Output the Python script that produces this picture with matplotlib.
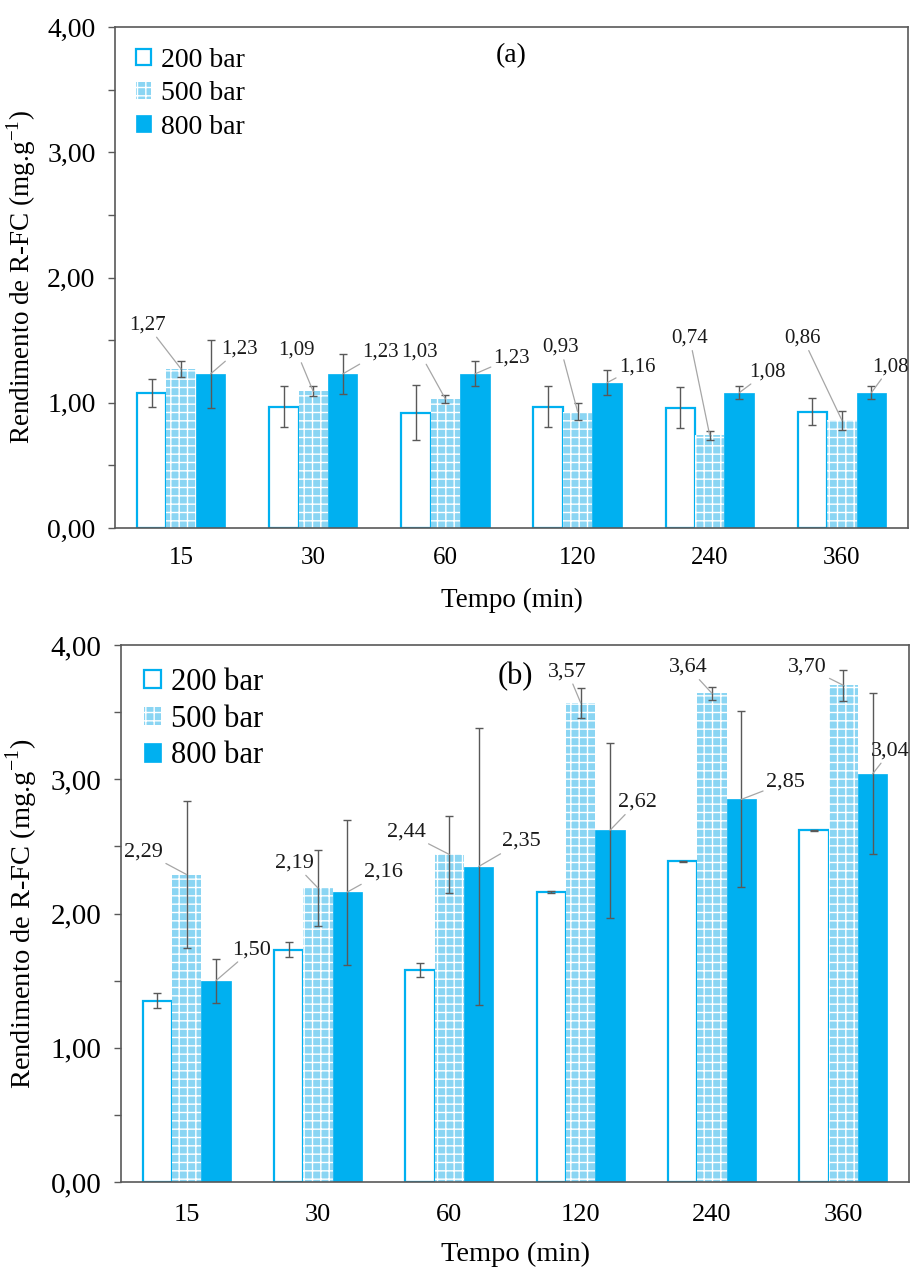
import matplotlib.pyplot as plt
import numpy as np
from matplotlib.ticker import MultipleLocator, FuncFormatter

plt.rcParams['font.family'] = ['Liberation Serif', 'DejaVu Serif']
plt.rcParams['mathtext.fontset'] = 'custom'
plt.rcParams['mathtext.rm'] = 'Liberation Serif'
plt.rcParams['hatch.linewidth'] = 1.0

tempos = ['15', '30', '60', '120', '240', '360']
series = ['200 bar', '500 bar', '800 bar']

# (a)
a_200 = [1.08, 0.97, 0.92, 0.97, 0.96, 0.93]
a_500 = [1.27, 1.09, 1.03, 0.93, 0.74, 0.86]
a_800 = [1.23, 1.23, 1.23, 1.16, 1.08, 1.08]
a_err_200 = [0.11, 0.16, 0.22, 0.16, 0.165, 0.11]
a_err_500 = [0.065, 0.04, 0.035, 0.07, 0.035, 0.075]
a_err_800 = [0.27, 0.16, 0.10, 0.10, 0.05, 0.05]

# (b)
b_200 = [1.35, 1.73, 1.58, 2.16, 2.39, 2.62]
b_500 = [2.29, 2.19, 2.44, 3.57, 3.64, 3.70]
b_800 = [1.50, 2.16, 2.35, 2.62, 2.85, 3.04]
b_err_200 = [0.055, 0.055, 0.055, 0.005, 0.005, 0.005]
b_err_500 = [0.55, 0.28, 0.29, 0.11, 0.05, 0.115]
b_err_800 = [0.165, 0.54, 1.03, 0.65, 0.655, 0.60]

# label offsets in pixels (500 bar, 800 bar)
a_off_500 = [(-34, 44), (-17, 41), (-26, 47), (-17, 64), (-20, 97), (-39, 82)]
a_off_800 = [(29, 25), (38, 22), (37, 16), (30, 16), (28, 21), (19, 26)]
b_off_500 = [(-43, 23), (-24, 25), (-43, 22), (-13, 31), (-24, 26), (-36, 18)]
b_off_800 = [(36, 31), (36, 20), (43, 25), (27, 28), (44, 17), (18, 23)]

azul = '#00B0F0'
tijolo = '#8AD5F3'
cinza = '#595959'


def virgula(v, pos=None):
    return f'{v:.2f}'.replace('.', ',')


def painel(ax, v200, v500, v800, e200, e500, e800, off500, off800, letra,
           fs_yt, fs_xt, fs_lab, fs_leg, fs_val, ylab_x, xpad, xlabpad, lsp):
    x = np.arange(len(tempos))
    w = 0.223
    ax.bar(x - w, v200, w, color='white', edgecolor=azul, linewidth=1.6,
           label=series[0], zorder=2)
    ax.bar(x, v500, w, color=tijolo, edgecolor='white', linewidth=0,
           hatch='++', label=series[1], zorder=2)
    ax.bar(x + w, v800, w, color=azul, edgecolor=azul, linewidth=0.5,
           label=series[2], zorder=2)
    for dx, v, e in [(-w, v200, e200), (0, v500, e500), (w, v800, e800)]:
        ax.errorbar(x + dx, v, yerr=e, fmt='none', ecolor=cinza,
                    elinewidth=1, capsize=3, capthick=1, zorder=3)

    for i in range(len(tempos)):
        for dx, v, off in [(0, v500, off500), (w, v800, off800)]:
            ax.annotate(virgula(v[i]), xy=(x[i] + dx, v[i]), xytext=off[i],
                        textcoords='offset pixels', ha='center', va='center',
                        fontsize=fs_val, color='#1a1a1a', zorder=4,
                        arrowprops=dict(arrowstyle='-', color='#A6A6A6',
                                        lw=0.9, shrinkA=0, shrinkB=0))

    ax.set_xlim(-0.5, len(tempos) - 0.5)
    ax.set_ylim(0, 4)
    ax.set_xticks(x)
    ax.set_xticklabels(tempos, fontsize=fs_xt)
    ax.tick_params(axis='x', length=0, pad=xpad)
    ax.yaxis.set_major_locator(MultipleLocator(1))
    ax.yaxis.set_minor_locator(MultipleLocator(0.5))
    ax.yaxis.set_major_formatter(FuncFormatter(virgula))
    ax.tick_params(axis='y', which='both', direction='out', length=5,
                   width=1, color=cinza, labelsize=fs_yt, pad=9)
    for s in ax.spines.values():
        s.set_color(cinza)
        s.set_linewidth(1.2)
    ax.set_xlabel('Tempo (min)', fontsize=fs_lab, labelpad=xlabpad)
    ax.set_ylabel(r'Rendimento de R-FC (mg.g$^{\mathregular{-1}}$)',
                  fontsize=fs_lab)
    ax.yaxis.set_label_coords(ylab_x, 0.5)
    ax.text(0.5, 0.942, letra, transform=ax.transAxes, ha='center',
            va='center', fontsize=fs_leg)
    ax.legend(loc='upper left', bbox_to_anchor=(0.0, 1.0), frameon=False,
              fontsize=fs_leg, handlelength=0.55, handleheight=0.55,
              handletextpad=0.35, labelspacing=lsp, borderaxespad=0.35)


fig = plt.figure(figsize=(9.12, 12.68), dpi=100)
ax1 = fig.add_axes([0.1261, 0.5836, 0.8695, 0.3951])
ax2 = fig.add_axes([0.1327, 0.0678, 0.8640, 0.4235])

painel(ax1, a_200, a_500, a_800, a_err_200, a_err_500, a_err_800,
       a_off_500, a_off_800, '(a)', 20, 18, 19.5, 20, 15, -0.097, 14, 13, 0.3)
painel(ax2, b_200, b_500, b_800, b_err_200, b_err_500, b_err_800,
       b_off_500, b_off_800, '(b)', 21, 19, 20.5, 22, 16, -0.103, 16, 11, 0.25)

fig.savefig('out.png', dpi=100)
